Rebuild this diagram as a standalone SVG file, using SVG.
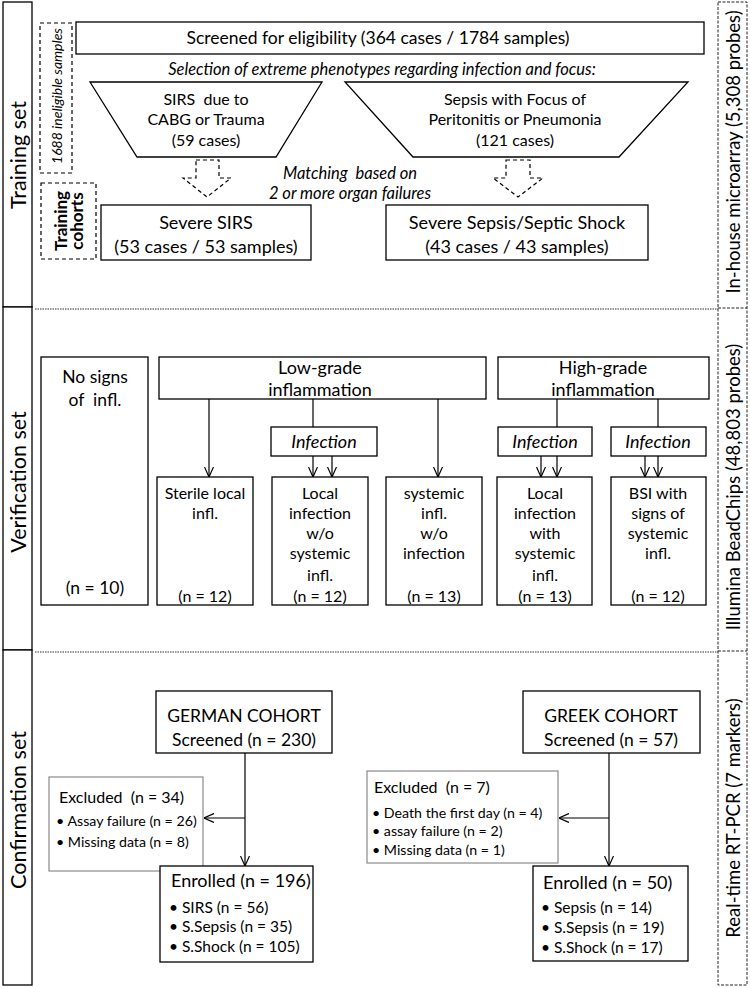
<svg xmlns="http://www.w3.org/2000/svg" width="750" height="988" viewBox="0 0 750 988">
<style>
text{font-family:Lato,"Liberation Sans",sans-serif;fill:#000;white-space:pre}
.c{text-anchor:middle}
.box{fill:#fff;stroke:#000;stroke-width:1.3}
.gbox{fill:#fff;stroke:#8a8a8a;stroke-width:1.2}
.dash{fill:none;stroke:#000;stroke-width:1.2;stroke-dasharray:4 3}
.rdash{fill:none;stroke:#222;stroke-width:1;stroke-dasharray:3 1.5}
.dot{fill:none;stroke:#333;stroke-width:1.2;stroke-dasharray:1.5 1}
.ln{fill:none;stroke:#000;stroke-width:1.2}
.it{font-style:italic}
.side{font-size:21.5px}
.rside{font-size:18.5px}
.big{font-size:18px}
.mid{font-size:17.5px}
.sm{font-size:16px}
.ital{font-size:16.5px;font-style:italic}
.inf{font-size:18px;font-style:italic}
.exh{font-size:16px}
.exi{font-size:14.2px}
.enr{font-size:15.5px}
</style>
<defs>
<marker id="v" viewBox="0 0 10 10" refX="10" refY="5" markerWidth="10" markerHeight="10" markerUnits="userSpaceOnUse" orient="auto">
<path d="M0,0.5 L10,5 L0,9.5" fill="none" stroke="#000" stroke-width="1.2"/>
</marker>
</defs>

<g id="side-left">
<rect x="3" y="2" width="29" height="305" class="box"/>
<rect x="3" y="307" width="29" height="343" class="box"/>
<rect x="3" y="650" width="29" height="335" class="box"/>
<text class="c side" transform="translate(18,155) rotate(-90)" dominant-baseline="central">Training set</text>
<text class="c side" transform="translate(18,482) rotate(-90)" dominant-baseline="central">Verification set</text>
<text class="c side" transform="translate(18,810) rotate(-90)" dominant-baseline="central">Confirmation set</text>
</g>

<g id="side-right">
<rect x="718" y="2" width="29" height="983" class="rdash"/>
<line x1="718" y1="308" x2="747" y2="308" class="rdash"/>
<line x1="718" y1="651" x2="747" y2="651" class="rdash"/>
<text class="c rside" transform="translate(733,152) rotate(-90)" dominant-baseline="central">In-house microarray (5,308 probes)</text>
<text class="c rside" transform="translate(733,487) rotate(-90)" dominant-baseline="central">Illumina BeadChips (48,803 probes)</text>
<text class="c rside" transform="translate(733,818) rotate(-90)" dominant-baseline="central">Real-time RT-PCR (7 markers)</text>
</g>

<g id="separators">
<line x1="35" y1="309" x2="718" y2="309" class="dot"/>
<line x1="35" y1="652" x2="718" y2="652" class="dot"/>
</g>

<!-- Training set -->
<g id="ineligible">
<rect x="40" y="23" width="32" height="150" class="dash"/>
<text class="c it" font-size="14" transform="translate(56,96) rotate(-90)" dominant-baseline="central">1688 ineligible samples</text>
</g>
<g id="screened">
<rect x="76" y="22" width="628" height="32" class="box"/>
<text class="c mid" x="378" y="44">Screened for eligibility (364 cases / 1784 samples)</text>
</g>
<text class="c ital" x="382" y="75">Selection of extreme phenotypes regarding infection and focus:</text>
<g id="sirs-trap">
<polygon points="90,82 322,82 276,157 137,157" class="box"/>
<text class="c sm" x="206" y="105">SIRS  due to</text>
<text class="c sm" x="206" y="125">CABG or Trauma</text>
<text class="c sm" x="206" y="146">(59 cases)</text>
</g>
<g id="sepsis-trap">
<polygon points="345,82 688,82 619,157 413,157" class="box"/>
<text class="c sm" x="515" y="105">Sepsis with Focus of</text>
<text class="c sm" x="515" y="125">Peritonitis or Pneumonia</text>
<text class="c sm" x="515" y="146">(121 cases)</text>
</g>
<text class="c ital" x="350" y="179">Matching  based on</text>
<text class="c ital" x="350" y="199">2 or more organ failures</text>
<g id="training-cohorts">
<rect x="41" y="183" width="55" height="76" class="dash"/>
<text class="c" font-size="17" font-weight="bold" transform="translate(60,221) rotate(-90)" dominant-baseline="central">Training</text>
<text class="c" font-size="17" font-weight="bold" transform="translate(76,221) rotate(-90)" dominant-baseline="central">cohorts</text>
</g>
<g id="severe-sirs">
<rect x="101" y="205" width="210" height="55" class="box"/>
<text class="c big" x="206" y="229">Severe SIRS</text>
<text class="c big" x="206" y="253">(53 cases / 53 samples)</text>
</g>
<g id="severe-sepsis">
<rect x="386" y="205" width="262" height="55" class="box"/>
<text class="c big" x="517" y="229">Severe Sepsis/Septic Shock</text>
<text class="c big" x="517" y="253">(43 cases / 43 samples)</text>
</g>

<!-- Verification set -->
<g id="no-signs">
<rect x="41" y="357" width="107" height="248" class="box"/>
<text class="c mid" x="95" y="383">No signs</text>
<text class="c mid" x="95" y="406">of  infl.</text>
<text class="c mid" x="95" y="594">(n = 10)</text>
</g>
<g id="low-grade">
<rect x="159" y="357" width="327" height="42" class="box"/>
<text class="c big" x="320" y="374">Low-grade</text>
<text class="c big" x="320" y="396">inflammation</text>
</g>
<g id="high-grade">
<rect x="498" y="357" width="211" height="42" class="box"/>
<text class="c big" x="603" y="374">High-grade</text>
<text class="c big" x="603" y="396">inflammation</text>
</g>
<g id="infection-1">
<rect x="271" y="427" width="106" height="29" class="box"/>
<text class="c inf" x="324" y="448">Infection</text>
</g>
<g id="infection-2">
<rect x="498" y="427" width="94" height="29" class="box"/>
<text class="c inf" x="545" y="448">Infection</text>
</g>
<g id="infection-3">
<rect x="611" y="427" width="95" height="29" class="box"/>
<text class="c inf" x="658" y="448">Infection</text>
</g>
<g id="sterile">
<rect x="157" y="477" width="96" height="128" class="box"/>
<text class="c sm" x="205" y="499">Sterile local</text>
<text class="c sm" x="205" y="519">infl.</text>
<text class="c sm" x="205" y="602">(n = 12)</text>
</g>
<g id="local-wo">
<rect x="272" y="477" width="96" height="128" class="box"/>
<text class="c sm" x="320" y="499">Local</text>
<text class="c sm" x="320" y="519">infection</text>
<text class="c sm" x="320" y="539">w/o</text>
<text class="c sm" x="320" y="559">systemic</text>
<text class="c sm" x="320" y="581">infl.</text>
<text class="c sm" x="320" y="602">(n = 12)</text>
</g>
<g id="systemic-wo">
<rect x="386" y="477" width="96" height="128" class="box"/>
<text class="c sm" x="434" y="499">systemic</text>
<text class="c sm" x="434" y="519">infl.</text>
<text class="c sm" x="434" y="539">w/o</text>
<text class="c sm" x="434" y="559">infection</text>
<text class="c sm" x="434" y="602">(n = 13)</text>
</g>
<g id="local-with">
<rect x="497" y="477" width="95" height="128" class="box"/>
<text class="c sm" x="545" y="499">Local</text>
<text class="c sm" x="545" y="519">infection</text>
<text class="c sm" x="545" y="539">with</text>
<text class="c sm" x="545" y="559">systemic</text>
<text class="c sm" x="545" y="581">infl.</text>
<text class="c sm" x="545" y="602">(n = 13)</text>
</g>
<g id="bsi">
<rect x="611" y="477" width="95" height="128" class="box"/>
<text class="c sm" x="658" y="499">BSI with</text>
<text class="c sm" x="658" y="519">signs of</text>
<text class="c sm" x="658" y="539">systemic</text>
<text class="c sm" x="658" y="559">infl.</text>
<text class="c sm" x="658" y="602">(n = 12)</text>
</g>

<!-- Confirmation set -->
<g id="german">
<rect x="156" y="691" width="176" height="62" class="box"/>
<text class="c mid" x="244" y="722">GERMAN COHORT</text>
<text class="c mid" x="244" y="746">Screened (n = 230)</text>
</g>
<g id="german-excluded">
<rect x="49" y="777" width="154" height="94" class="gbox"/>
<text class="exh" x="59" y="803">Excluded  (n = 34)</text>
<text class="exi" x="56" y="826">• Assay failure (n = 26)</text>
<text class="exi" x="56" y="847">• Missing data (n = 8)</text>
</g>
<g id="german-enrolled">
<rect x="160" y="866" width="153" height="96" class="box"/>
<text class="big" x="171" y="887">Enrolled (n = 196)</text>
<text class="enr" x="169" y="913">• SIRS (n = 56)</text>
<text class="enr" x="169" y="932">• S.Sepsis (n = 35)</text>
<text class="enr" x="169" y="952">• S.Shock (n = 105)</text>
</g>
<g id="greek">
<rect x="523" y="691" width="177" height="62" class="box"/>
<text class="c mid" x="611" y="722">GREEK COHORT</text>
<text class="c mid" x="611" y="746">Screened (n = 57)</text>
</g>
<g id="greek-excluded">
<rect x="367" y="771" width="191" height="92" class="gbox"/>
<text class="exh" x="374" y="793">Excluded  (n = 7)</text>
<text class="exi" x="372" y="818">• Death the first day (n = 4)</text>
<text class="exi" x="372" y="836">• assay failure (n = 2)</text>
<text class="exi" x="372" y="855">• Missing data (n = 1)</text>
</g>
<g id="greek-enrolled">
<rect x="533" y="866" width="155" height="95" class="box"/>
<text class="big" x="543" y="889">Enrolled (n = 50)</text>
<text class="enr" x="541" y="913">• Sepsis (n = 14)</text>
<text class="enr" x="541" y="933">• S.Sepsis (n = 19)</text>
<text class="enr" x="541" y="953">• S.Shock (n = 17)</text>
</g>

<g id="connectors">
<path class="dash" d="M196,160 H219 V178 H231 L207,197 L183,178 H196 Z" stroke-dasharray="5 3"/>
<path class="dash" d="M506,160 H530 V178 H543 L518,197 L493,178 H506 Z" stroke-dasharray="5 3"/>
<line x1="209" y1="399" x2="209" y2="477" class="ln" marker-end="url(#v)"/>
<line x1="313" y1="399" x2="313" y2="427" class="ln"/>
<line x1="313" y1="456" x2="313" y2="477" class="ln" marker-end="url(#v)"/>
<line x1="332" y1="456" x2="332" y2="477" class="ln" marker-end="url(#v)"/>
<line x1="438" y1="399" x2="438" y2="477" class="ln" marker-end="url(#v)"/>
<line x1="557" y1="399" x2="557" y2="427" class="ln"/>
<line x1="541" y1="456" x2="541" y2="477" class="ln" marker-end="url(#v)"/>
<line x1="557" y1="456" x2="557" y2="477" class="ln" marker-end="url(#v)"/>
<line x1="658" y1="399" x2="658" y2="427" class="ln"/>
<line x1="645" y1="456" x2="645" y2="477" class="ln" marker-end="url(#v)"/>
<line x1="658" y1="456" x2="658" y2="477" class="ln" marker-end="url(#v)"/>
<line x1="245" y1="753" x2="245" y2="866" class="ln" marker-end="url(#v)"/>
<line x1="245" y1="818" x2="204" y2="818" class="ln" marker-end="url(#v)"/>
<line x1="609" y1="753" x2="609" y2="866" class="ln" marker-end="url(#v)"/>
<line x1="609" y1="818" x2="559" y2="818" class="ln" marker-end="url(#v)"/>
</g>
</svg>
